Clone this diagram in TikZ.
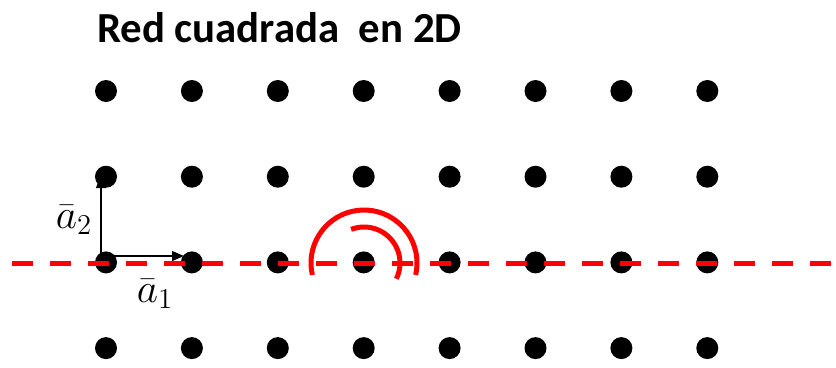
\documentclass[tikz,border=0pt]{standalone}
\usepackage{fontspec}
\setmainfont{Carlito}
\usetikzlibrary{arrows.meta}
\begin{document}
\begin{tikzpicture}[x=1bp,y=-1bp,
  latdot/.style={circle,fill=black,inner sep=0pt,minimum size=22bp},
  vec/.style={line width=1.3bp,-{Triangle[length=12bp,width=10bp]}},
  redline/.style={red,line width=5bp},
  lbl/.style={inner sep=0pt,font=\huge,scale=2}]
\useasboundingbox (0,0) rectangle (836,367);
\foreach \i in {0,...,7}{
  \foreach \j in {0,...,3}{
    \node[latdot] (d\i\j) at ({106+85.9*\i},{91+85.7*\j}) {};
  }
}
\node[anchor=base west,inner sep=0pt,font=\fontsize{43}{50}\selectfont\bfseries] (title) at (97,42) {Red cuadrada~ en 2D};
% dashed line
\coordinate (L) at (12,263);
\coordinate (R) at (836,263);
\draw[redline,dash pattern=on 21bp off 17bp] (L) -- (R);
% vectors
\coordinate (o) at (101,256);
\coordinate (e1) at (184,256);
\coordinate (e2) at (101,176);
\draw[vec] (o) -- (e1);
\draw[vec] (o) -- (e2);
\node[lbl] (a1) at (155,294) {$\bar{a}_1$};
\node[lbl] (a2) at (74,220) {$\bar{a}_2$};
% arcs
\coordinate (c) at (364,263);
\draw[redline] ([shift={(-193:53)}]c) arc[start angle=-193,end angle=13,radius=53];
\draw[redline] ([shift={(-111:36)}]c) arc[start angle=-111,end angle=26,radius=36];
\end{tikzpicture}
\end{document}
